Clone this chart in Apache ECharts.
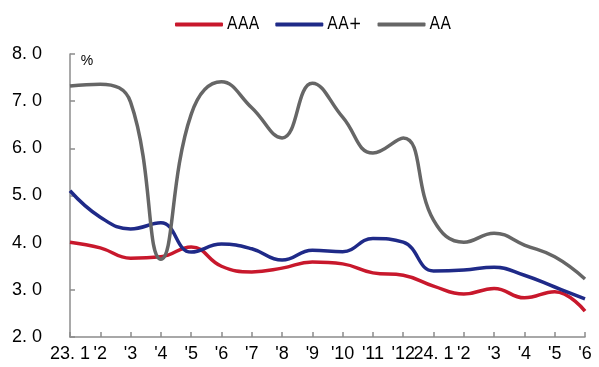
<!DOCTYPE html>
<html>
<head>
<meta charset="utf-8">
<script src="https://cdn.jsdelivr.net/npm/echarts@6/dist/echarts.min.js"></script>
<style>
  html, body { margin: 0; padding: 0; background: #fff; }
  #chart { width: 599px; height: 367px; }
</style>
</head>
<body>
<div id="chart"></div>
<script>
// Month labels along the x axis
const categories = ["23. 1", "'2", "'3", "'4", "'5", "'6", "'7", "'8", "'9", "'10", "'11", "'12",
                    "24. 1", "'2", "'3", "'4", "'5", "'6"];

// Yields by rating, %
const aaa    = [4.01, 3.89, 3.67, 3.70, 3.91, 3.50, 3.38, 3.46, 3.59, 3.55, 3.36, 3.31,
                3.08, 2.91, 3.03, 2.83, 2.96, 2.55];
const aaPlus = [5.10, 4.54, 4.29, 4.42, 3.80, 3.97, 3.87, 3.63, 3.84, 3.81, 4.09, 4.01,
                3.40, 3.42, 3.48, 3.31, 3.06, 2.81];
const aa     = [7.32, 7.36, 6.98, 3.65, 6.72, 7.41, 6.86, 6.22, 7.38, 6.66, 5.90, 6.22,
                4.48, 4.01, 4.20, 3.95, 3.70, 3.23];

const seriesNames = ["AAA", "AA+", "AA"];
const yTicks = { min: 2, max: 8, step: 1 };

const colors = ["#c8182c", "#1f2a88", "#666666"];
const axisColor = "#8c8c8c";
const labelFont = "'Liberation Sans', Arial, sans-serif";

const chart = echarts.init(document.getElementById("chart"), null, { renderer: "canvas" });

function lineSeries(name, data, color) {
  return {
    name: name,
    type: "line",
    data: data,
    smooth: 0.45,
    symbol: "none",
    lineStyle: { color: color, width: 3.5 },
    itemStyle: { color: color }
  };
}

chart.setOption({
  animation: false,
  color: colors,
  grid: { left: 70, right: 14, top: 54, bottom: 30, containLabel: false },
  legend: {
    top: 16,
    left: 175,
    padding: 0,
    itemWidth: 48,
    itemHeight: 4,
    itemGap: 16,
    icon: "roundRect",
    textStyle: {
      fontFamily: "'Liberation Sans Narrow', 'Arial Narrow', 'DejaVu Sans Condensed', sans-serif",
      fontSize: 17,
      color: "#000",
      padding: [0, 0, 0, -1]
    },
    data: seriesNames
  },
  xAxis: {
    type: "category",
    data: categories,
    boundaryGap: false,
    axisLine: { lineStyle: { color: axisColor, width: 1.5 } },
    axisTick: { inside: true, length: 5, alignWithLabel: true, interval: 0,
                lineStyle: { color: axisColor, width: 1.5 } },
    axisLabel: { interval: 0, hideOverlap: false, color: "#000", fontSize: 18,
                 fontFamily: labelFont, margin: 8 },
    splitLine: { show: false }
  },
  yAxis: {
    type: "value",
    min: yTicks.min,
    max: yTicks.max,
    interval: yTicks.step,
    name: "%",
    nameLocation: "end",
    nameGap: -14,
    nameTextStyle: { color: "#000", fontSize: 14, fontFamily: labelFont, padding: [0, 0, 0, 34] },
    axisLine: { show: true, lineStyle: { color: axisColor, width: 1.5 } },
    axisTick: { show: true, inside: true, length: 5, lineStyle: { color: axisColor, width: 1.5 } },
    axisLabel: {
      color: "#000", fontSize: 18, fontFamily: labelFont, margin: 28,
      formatter: v => v.toFixed(1).replace(".", ". ")
    },
    splitLine: { show: false }
  },
  series: [
    lineSeries(seriesNames[0], aaa, colors[0]),
    lineSeries(seriesNames[1], aaPlus, colors[1]),
    lineSeries(seriesNames[2], aa, colors[2])
  ]
});
</script>
</body>
</html>
